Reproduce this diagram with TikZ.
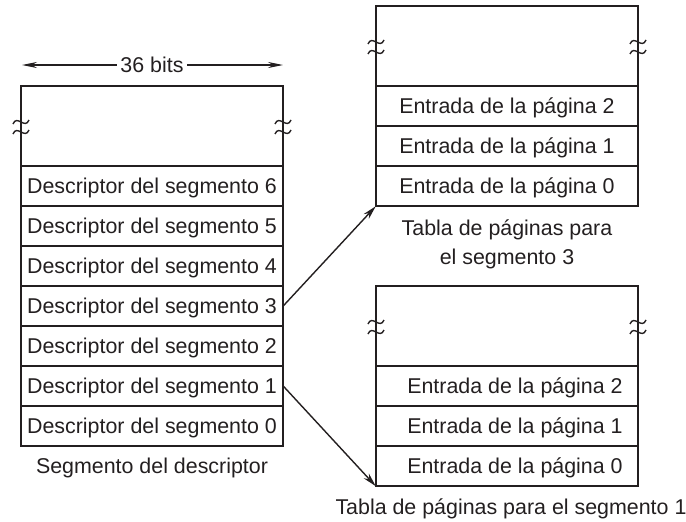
\documentclass[tikz,border=0pt]{standalone}
\usepackage{fontspec}
\setmainfont{Liberation Sans}
\usetikzlibrary{arrows.meta}
\definecolor{ink}{HTML}{231F20}
\begin{document}
\begin{tikzpicture}[x=1pt,y=-1pt,
  cell/.style={minimum width=262pt, minimum height=40pt, inner sep=0pt,
    text height=15pt, text depth=0pt, font=\fontsize{21.4}{25}\selectfont, text=ink},
  captxt/.style={inner sep=3.5pt, text height=15pt, text depth=0pt,
    font=\fontsize{21.4}{25}\selectfont, text=ink},
  frame/.style={draw=ink, line width=1.5pt},
  sepline/.style={draw=ink, line width=2.8pt},
  tilde/.style={draw=ink, line width=1.4pt},
  arr/.style={draw=ink, line width=1.4pt, -{Stealth[length=14pt,width=7pt]}},
  wave/.pic={\draw[tilde] (-8,2) .. controls (-4,-8) and (4,8) .. (8,-2);}]
\useasboundingbox (0,0) rectangle (686,522);

% ---- left: descriptor segment ----
\node[captxt] (bits) at (152,65) {36 bits};
\coordinate (bl) at (22,65);
\coordinate (br) at (283,65);
\draw[arr, line width=1.1pt, -{Stealth[length=15pt,width=6pt]}] (bits.west) -- (bl);
\draw[arr, line width=1.1pt, -{Stealth[length=15pt,width=6pt]}] (bits.east) -- (br);

\draw[frame] (21,86) rectangle (283,446);
\foreach \yy in {166,206,246,286,326,366,406} \draw[sepline] (21,\yy) -- (283,\yy);
\pic at (21,122) {wave}; \pic at (21,132) {wave};
\pic at (283,122) {wave}; \pic at (283,132) {wave};

\node[cell] (d6) at (152,186) {Descriptor del segmento 6};
\node[cell] (d5) at (152,226) {Descriptor del segmento 5};
\node[cell] (d4) at (152,266) {Descriptor del segmento 4};
\node[cell] (d3) at (152,306) {Descriptor del segmento 3};
\node[cell] (d2) at (152,346) {Descriptor del segmento 2};
\node[cell] (d1) at (152,386) {Descriptor del segmento 1};
\node[cell] (d0) at (152,426) {Descriptor del segmento 0};
\node[captxt] (capL) at (152,466) {Segmento del descriptor};

% ---- top right: page table for segment 3 ----
\draw[frame] (376,6) rectangle (638,206);
\foreach \yy in {86,126,166} \draw[sepline] (376,\yy) -- (638,\yy);
\pic at (376,42) {wave}; \pic at (376,52) {wave};
\pic at (638,42) {wave}; \pic at (638,52) {wave};
\node[cell] (t2) at (507,106) {Entrada de la página 2};
\node[cell] (t1) at (507,146) {Entrada de la página 1};
\node[cell] (t0) at (507,186) {Entrada de la página 0};
\node[captxt] (capT1) at (507,228) {Tabla de páginas para};
\node[captxt] (capT2) at (507,257) {el segmento 3};

% ---- bottom right: page table for segment 1 ----
\draw[frame] (376,286) rectangle (638,486);
\foreach \yy in {366,406,446} \draw[sepline] (376,\yy) -- (638,\yy);
\pic at (376,322) {wave}; \pic at (376,332) {wave};
\pic at (638,322) {wave}; \pic at (638,332) {wave};
\node[cell] (b2) at (507,386) {\hspace*{16pt}Entrada de la página 2};
\node[cell] (b1) at (507,426) {\hspace*{16pt}Entrada de la página 1};
\node[cell] (b0) at (507,466) {\hspace*{16pt}Entrada de la página 0};
\node[captxt] (capB) at (511,507) {Tabla de páginas para el segmento 1};

% ---- connectors ----
\draw[arr] (d3.east) -- (t0.south west);
\draw[arr] (d1.east) -- (b0.south west);
\end{tikzpicture}
\end{document}
